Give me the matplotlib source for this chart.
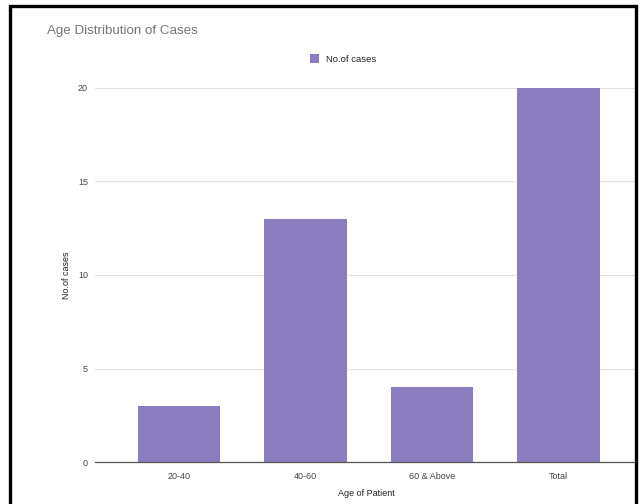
import matplotlib
matplotlib.use("Agg")
import matplotlib.pyplot as plt
from matplotlib.patches import Rectangle, Patch

plt.rcParams['font.family'] = ['Liberation Sans', 'DejaVu Sans']

# Age groups and number of cases
age_groups = ["20-40", "40-60", "60 & Above", "Total"]
cases = [3, 13, 4, 20]
y_ticks = [0, 5, 10, 15, 20]

bar_color = "#8b7cbf"
text_color = "#444444"

fig = plt.figure(figsize=(6.43, 5.04), dpi=100)
ax = fig.add_axes([95 / 643, 1 - 462 / 504, (637 - 95) / 643, (462 - 88) / 504])

x = range(len(age_groups))
ax.bar(x, cases, width=0.65, color=bar_color, zorder=3)

ax.set_xlim(-0.665, 3.62)
ax.set_ylim(0, 20)
ax.set_yticks(y_ticks)
ax.set_xticks(list(x))
ax.set_xticklabels(age_groups)
ax.tick_params(axis="both", length=0, labelsize=6.5, colors=text_color)
ax.tick_params(axis="x", pad=7)
ax.tick_params(axis="y", pad=5)

ax.grid(axis="y", color="#e2e2e2", linewidth=0.8, zorder=0)
for side in ["top", "right", "left"]:
    ax.spines[side].set_visible(False)
ax.spines["bottom"].set_color("#555555")
ax.spines["bottom"].set_linewidth(0.9)
ax.spines["bottom"].set_zorder(4)

ax.set_xlabel("Age of Patient", fontsize=6.5, color="#222222", labelpad=6)
ax.set_ylabel("No.of cases", fontsize=6.5, color="#222222", labelpad=5)

fig.text(47 / 643, 1 - 31 / 504, "Age Distribution of Cases", fontsize=9.6,
         color="#757575", va="center", ha="left")

handles = [Patch(facecolor=bar_color, edgecolor="none")]
fig.legend(handles, ["No.of cases"], loc="center", bbox_to_anchor=(343 / 643, 1 - 59 / 504),
           frameon=False, fontsize=6.8, handlelength=1.0, handleheight=1.0,
           handletextpad=0.7, labelcolor="#222222")

# black frame around the chart
fig.patches.append(Rectangle((10 / 643, -0.02), (636 - 10) / 643, 1.02 - 6 / 504,
                             transform=fig.transFigure, fill=False,
                             edgecolor="black", linewidth=2.4))

fig.savefig("out.png", dpi=100)
